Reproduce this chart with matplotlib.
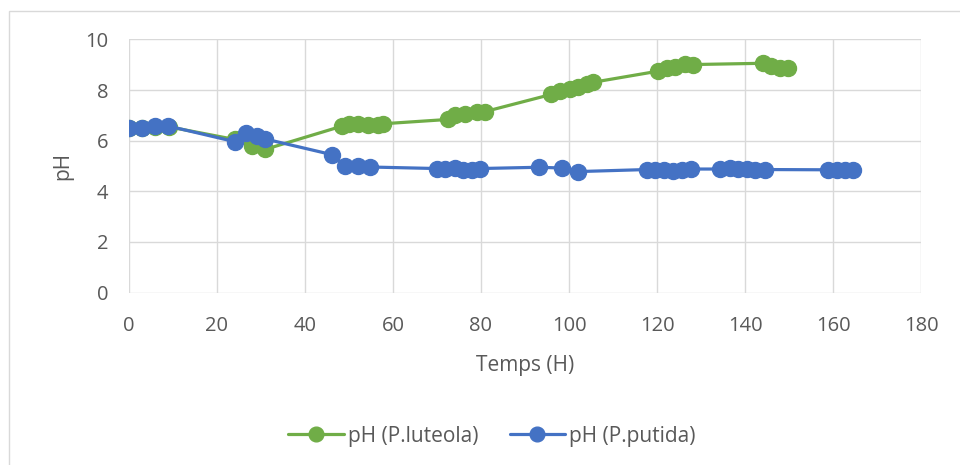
import matplotlib
matplotlib.use("Agg")
import matplotlib.pyplot as plt
from matplotlib.patches import Rectangle

plt.rcParams['font.family'] = ['Open Sans', 'DejaVu Sans']

# Time (hours) and pH for P. luteola
t_luteola = [0, 3, 6, 9, 24, 26.5, 28, 31,
             48.3, 50, 52, 54.3, 56.6, 57.8,
             72.5, 74.1, 76.4, 79, 80.9,
             96, 98, 100.2, 102, 104, 105.5,
             120.3, 122.2, 124.1, 126.4, 128.2,
             144.1, 146, 148, 149.8]
ph_luteola = [6.50, 6.50, 6.55, 6.55, 6.05, 6.20, 5.78, 5.66,
              6.57, 6.65, 6.66, 6.64, 6.64, 6.67,
              6.84, 7.00, 7.07, 7.15, 7.15,
              7.83, 7.96, 8.05, 8.12, 8.25, 8.31,
              8.75, 8.88, 8.90, 9.03, 9.01,
              9.06, 8.95, 8.86, 8.88]

# Time (hours) and pH for P. putida
t_putida = [0, 2.9, 5.9, 8.9, 24.1, 26.7, 29, 30.9,
            46.1, 49.1, 52, 54.8,
            69.9, 71.8, 74.1, 75.9, 78, 79.8,
            93.2, 98.3, 102.1,
            117.7, 119.5, 121.6, 123.7, 125.6, 127.7,
            134.3, 136.6, 138.5, 140.4, 142.3, 144.5,
            158.9, 160.8, 162.7, 164.6]
ph_putida = [6.50, 6.50, 6.60, 6.58, 5.96, 6.30, 6.18, 6.07,
             5.45, 4.99, 5.00, 4.96,
             4.90, 4.88, 4.91, 4.85, 4.85, 4.90,
             4.95, 4.92, 4.78,
             4.86, 4.85, 4.85, 4.80, 4.84, 4.88,
             4.88, 4.93, 4.89, 4.87, 4.86, 4.86,
             4.85, 4.84, 4.84, 4.84]

x_ticks = list(range(0, 181, 20))
y_ticks = list(range(0, 11, 2))

GREEN = '#70AD47'
BLUE = '#4472C4'
TEXT = '#595959'
GRID = '#D9D9D9'

fig = plt.figure(figsize=(9.6, 4.65), dpi=100)
W, H = 960, 465

# outer chart frame
fig.patches.append(Rectangle((9 / W, -0.05), 1.1, 1 - 11 / H + 0.05,
                             transform=fig.transFigure, fill=False,
                             edgecolor=GRID, linewidth=1.0))

ax_left, ax_right, ax_top, ax_bot = 129, 921, 39.5, 292.5
ax = fig.add_axes([ax_left / W, 1 - ax_bot / H,
                   (ax_right - ax_left) / W, (ax_bot - ax_top) / H])
ax.plot(t_luteola, ph_luteola, color=GREEN, lw=2.3, marker='o', ms=11.5,
        label='pH (P.luteola)', solid_capstyle='round', zorder=3)
ax.plot(t_putida, ph_putida, color=BLUE, lw=2.3, marker='o', ms=11.5,
        label='pH (P.putida)', solid_capstyle='round', zorder=4)

ax.set_xlim(0, 180)
ax.set_ylim(0, 10)
ax.set_xticks(x_ticks)
ax.set_yticks(y_ticks)
ax.grid(True, color=GRID, lw=1.0)
ax.set_axisbelow(True)
for s in ax.spines.values():
    s.set_visible(False)
ax.tick_params(length=0, labelsize=14.5, labelcolor=TEXT)
ax.tick_params(axis='y', pad=15)
ax.tick_params(axis='x', pad=17)

ax_w, ax_h = ax_right - ax_left, ax_bot - ax_top
ax.set_xlabel('Temps (H)', fontsize=15, color=TEXT)
ax.xaxis.set_label_coords(0.5, (ax_bot - 366) / ax_h)
ax.xaxis.label.set_va('center')
ax.set_ylabel('pH', fontsize=15, color=TEXT)
ax.yaxis.set_label_coords((63 - ax_left) / ax_w, 0.5)
ax.yaxis.label.set_va('center')

leg = fig.legend(loc='center', bbox_to_anchor=(492 / W, 1 - 436 / H), ncol=2,
                 frameon=False, fontsize=15, handlelength=2.65, columnspacing=1.5,
                 handletextpad=0.2, markerscale=0.92)
for t in leg.get_texts():
    t.set_color(TEXT)

fig.savefig('out.png', dpi=100)
